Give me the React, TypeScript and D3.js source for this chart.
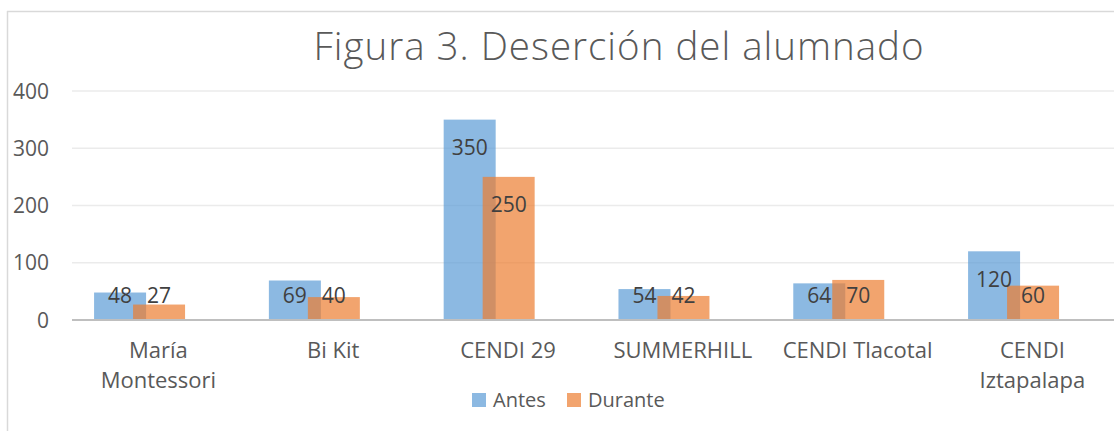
import React from "react";
import * as d3 from "d3";

const categories = ["María Montessori", "Bi Kit", "CENDI 29", "SUMMERHILL", "CENDI Tlacotal", "CENDI Iztapalapa"];
const antes = [48, 69, 350, 54, 64, 120];
const durante = [27, 40, 250, 42, 70, 60];
const yTicks = [0, 100, 200, 300, 400];
const seriesNames = ["Antes", "Durante"];
const title = "Figura 3. Deserción del alumnado";

const W = 1114;
const H = 433;
const FONT = "'Open Sans', 'Noto Sans', sans-serif";
const BLUE = "#5B9BD5";
const ORANGE = "#ED7D31";

function wrapLabel(text: string, maxW: number, font: string): string[] {
  const c = document.createElement("canvas").getContext("2d");
  if (!c) return [text];
  c.font = font;
  if (c.measureText(text).width <= maxW) return [text];
  const words = text.split(" ");
  const lines: string[] = [];
  let cur = "";
  for (const w of words) {
    const t = cur ? cur + " " + w : w;
    if (cur && c.measureText(t).width > maxW) {
      lines.push(cur);
      cur = w;
    } else cur = t;
  }
  if (cur) lines.push(cur);
  return lines;
}

export default function App() {
  const x = d3.scaleBand<string>().domain(categories).range([71, 71 + 6 * 174.8]).padding(0);
  const y = d3.scaleLinear().domain([0, 400]).range([320, 91]);
  const bw = x.bandwidth();
  const barW = bw * 0.2975;
  const x0 = (c: string) => (x(c) as number) + bw * 0.132;
  const x1 = (c: string) => x0(c) + bw * 0.223;
  const labelY = (v: number) => Math.min(y(v) + 28, y(0) - 25);

  return (
    <svg width={W} height={H} style={{ position: "absolute", left: 0, top: 0, background: "#fff" }} fontFamily={FONT}>
      <rect x={0} y={0} width={W} height={H} fill="#fff" />
      <line x1={7.5} y1={11} x2={7.5} y2={431} stroke="#D9D9D9" strokeWidth={1.5} />
      <line x1={7} y1={11.5} x2={W} y2={11.5} stroke="#D9D9D9" strokeWidth={1.5} />
      <text x={619} y={60} textAnchor="middle" fontSize={38.5} fontWeight={300} letterSpacing={1} fill="#595959">{title}</text>
      {yTicks.map((t) => (
        <g key={t}>
          {t !== 0 && <line x1={72} x2={1114} y1={y(t)} y2={y(t)} stroke="#EBEBEB" strokeWidth={1.5} />}
          <text x={49} y={y(t)} dy="0.36em" textAnchor="end" fontSize={21} fill="#595959">{t}</text>
        </g>
      ))}
      {categories.map((c, i) => (
        <g key={c}>
          <rect x={x0(c)} y={y(antes[i])} width={barW} height={y(0) - y(antes[i])} fill={BLUE} fillOpacity={0.7} />
          <rect x={x1(c)} y={y(durante[i])} width={barW} height={y(0) - y(durante[i])} fill={ORANGE} fillOpacity={0.7} />
        </g>
      ))}
      <line x1={72} x2={1114} y1={y(0)} y2={y(0)} stroke="#BFBFBF" strokeWidth={2} />
      {categories.map((c, i) => (
        <g key={c + "l"} fontSize={21} fill="#404040" textAnchor="middle">
          <text x={x0(c) + barW / 2} y={labelY(antes[i])} dy="0.36em">{antes[i]}</text>
          <text x={x1(c) + barW / 2} y={labelY(durante[i])} dy="0.36em">{durante[i]}</text>
        </g>
      ))}
      {categories.map((c) => {
        const lines = wrapLabel(c, 165, `22px ${FONT}`);
        return (
          <text key={c + "c"} x={(x(c) as number) + bw / 2} textAnchor="middle" fontSize={22} fill="#595959">
            {lines.map((l, k) => (
              <tspan key={k} x={(x(c) as number) + bw / 2} y={358 + k * 30}>{l}</tspan>
            ))}
          </text>
        );
      })}
      {seriesNames.map((s, i) => {
        const lx = i === 0 ? 472 : 567;
        return (
          <g key={s}>
            <rect x={lx} y={393} width={14} height={14} fill={i === 0 ? BLUE : ORANGE} fillOpacity={0.7} />
            <text x={lx + 21} y={407} fontSize={20} fill="#595959">{s}</text>
          </g>
        );
      })}
    </svg>
  );
}
